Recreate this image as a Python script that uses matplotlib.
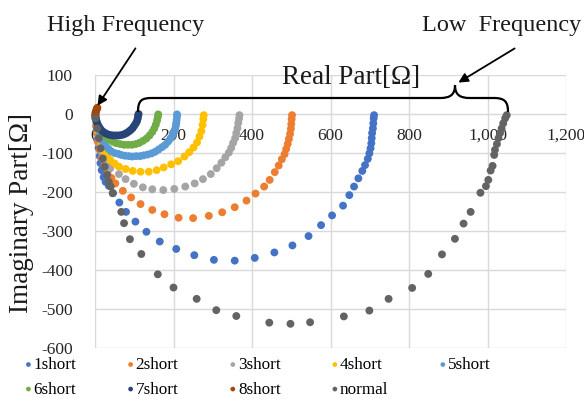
import matplotlib
matplotlib.use("Agg")
import matplotlib.pyplot as plt
from matplotlib.path import Path
from matplotlib.patches import PathPatch, FancyArrowPatch
from matplotlib.ticker import FuncFormatter, MultipleLocator

plt.rcParams['font.family'] = ['Liberation Serif', 'DejaVu Serif']

# ---------------- data (Real part, Imaginary part in ohm) ----------------
s1_re = [1, 4, 4, 6, 9, 12, 14, 17, 22, 27, 35, 46, 62, 79, 103, 131, 165, 207, 253, 303,
         356, 407, 457, 503, 544, 576, 604, 632, 648, 660, 671, 681, 688, 695, 699, 702,
         704, 705, 706, 708, 709, 710, 711]
s1_im = [-10, -28, -46, -67, -87, -108, -126, -144, -162, -174, -184, -203, -227, -251, -276,
         -302, -327, -346, -362, -374, -376, -369, -355, -337, -313, -285, -260, -235, -208,
         -186, -165, -146, -131, -115, -101, -88, -75, -62, -49, -37, -24, -11, -3]

s2_re = [1, 2.5, 5, 7.6, 11.5, 16.5, 24, 32, 42, 52, 71, 92, 116, 146, 177, 213, 250, 290,
         324, 356, 386, 409, 431, 445, 458, 468, 476, 483, 487, 491, 494, 497, 499, 500, 501, 502]
s2_im = [-10, -31, -51, -72, -92, -113, -133, -149, -164, -178, -197, -214, -231, -246, -257,
         -266, -267, -261, -252, -239, -222, -204, -186, -169, -149, -132, -116, -103, -90,
         -77, -64, -51, -38, -26, -13, -3]

s3_re = [1, 4, 6.4, 8.9, 14, 19, 25, 32, 39, 61, 78, 99, 122, 146, 174, 202, 230, 254, 275,
         295, 310, 322, 332, 341, 347, 352, 357, 360, 363, 365, 367, 368]
s3_im = [-5, -21, -41, -62, -82, -100, -115, -128, -139, -154, -167, -179, -188, -193, -195,
         -192, -186, -178, -167, -154, -139, -125, -111, -99, -87, -74, -62, -49, -36, -23,
         -12, -3]

s4_re = [1, 4, 7, 11.5, 16.5, 23, 31, 39, 50, 61, 78, 96, 116, 137, 157, 175, 194, 212, 228,
         240, 251, 260, 266, 271, 274, 276, 277]
s4_im = [-5, -21, -41, -62, -79, -95, -108, -118, -127, -135, -141, -146, -148, -148, -144,
         -137, -129, -121, -109, -98, -86, -73, -58, -44, -28, -13, -3]

s5_re = [1, 4, 7, 11.5, 16.5, 22, 28, 35, 42, 50, 59, 67, 76, 86, 95, 105, 115, 124, 134,
         144, 153, 162, 171, 179, 186, 192, 197, 201, 204, 206, 207, 208, 209, 209]
s5_im = [-5, -22, -38, -54, -66, -76, -83, -90, -96, -100, -102, -105, -107, -108, -109,
         -108, -108, -106, -104, -101, -97, -91, -85, -79, -71, -63, -56, -47, -39, -30,
         -23, -15, -6, -1]

s6_re = [1, 3, 6, 10, 15, 21, 28, 36, 45, 54, 64, 74, 84, 94, 104, 113, 122, 131, 139, 146,
         151, 155, 158, 160, 161]
s6_im = [-4, -15, -26, -36, -45, -53, -60, -66, -71, -75, -77, -79, -79, -79, -77, -74, -69,
         -63, -55, -46, -37, -27, -17, -8, -1]

s7_re = [1, 2, 4, 7, 11, 15, 20, 26, 32, 39, 46, 53, 60, 67, 74, 80, 86, 91, 96, 100, 104,
         107, 109, 110, 111]
s7_im = [-3, -11, -19, -27, -34, -40, -45, -49, -52, -54, -55, -55, -55, -54, -52, -49, -45,
         -41, -36, -30, -24, -18, -11, -4, 0]

s8_re = [1, 2, 3, 4, 5, 6]
s8_im = [2, 5, 8, 11, 14, 16]

n_re = [1.3, 5.6, 9.7, 14, 19.9, 24.9, 31, 35, 40, 45, 67, 74, 89, 118, 160, 200, 259, 309,
        360, 444, 498, 548, 634, 699, 748, 808, 849, 884, 917, 939, 957, 982, 996, 1002,
        1008, 1013, 1017, 1019, 1024, 1028, 1032, 1036, 1040, 1045, 1049]
n_im = [-11, -37, -62, -88, -114, -135, -156, -174, -186, -203, -251, -280, -321, -359, -411,
        -445, -474, -503, -518, -535, -538, -534, -519, -504, -474, -446, -410, -360, -320,
        -281, -251, -202, -185, -169, -145, -133, -105, -92, -77, -62, -49, -37, -24, -11, -3]

names = ['1short', '2short', '3short', '4short', '5short', '6short', '7short', '8short', 'normal']
colors = ['#4472C4', '#ED7D31', '#A5A5A5', '#FFC000', '#5B9BD5', '#70AD47', '#264478',
          '#9E480E', '#636363']
series = [(s1_re, s1_im), (s2_re, s2_im), (s3_re, s3_im), (s4_re, s4_im), (s5_re, s5_im),
          (s6_re, s6_im), (s7_re, s7_im), (s8_re, s8_im), (n_re, n_im)]

# ---------------- figure ----------------
W, H = 584, 399
fig = plt.figure(figsize=(W / 100, H / 100), dpi=100)
ax = fig.add_axes([95 / W, 1 - 348 / H, (566 - 95) / W, (348 - 75) / H])

handles = []
for i, ((xr, yi), nm, c) in enumerate(zip(series, names, colors)):
    h = ax.scatter(xr, yi, s=32, color=c, edgecolors='none', label=nm, zorder=3 + i,
                   clip_on=False)
    handles.append(h)

ax.set_xlim(0, 1200)
ax.set_ylim(-600, 100)
ax.xaxis.set_major_locator(MultipleLocator(200))
ax.yaxis.set_major_locator(MultipleLocator(100))
ax.xaxis.set_major_formatter(FuncFormatter(lambda v, p: f"{int(v):,}"))
ax.yaxis.set_major_formatter(FuncFormatter(lambda v, p: f"{int(v)}"))
ax.grid(True, color='#D9D9D9', linewidth=1)
ax.set_axisbelow(True)
for sp in ['top', 'right', 'left']:
    ax.spines[sp].set_visible(False)
ax.spines['bottom'].set_position(('data', 0))
ax.spines['bottom'].set_color('#D9D9D9')
ax.tick_params(axis='both', length=0, labelsize=12.5, colors='#262626')
ax.tick_params(axis='x', pad=10)
ax.tick_params(axis='y', pad=16)

fig.text(22 / W, 1 - 213 / H, 'Imaginary Part[Ω]', rotation=90, ha='center', va='center',
         fontsize=19.5, color='#1a1a1a')
fig.text(351 / W, 1 - 77 / H, 'Real Part[Ω]', ha='center', va='center', fontsize=19.5,
         color='#1a1a1a')
fig.text(126 / W, 1 - 25 / H, 'High Frequency', ha='center', va='center', fontsize=17.5,
         color='#1a1a1a')
fig.text(502 / W, 1 - 25 / H, 'Low  Frequency', ha='center', va='center', fontsize=17.5,
         color='#1a1a1a')

# arrows (figure-pixel coordinates)
def fp(x, y):
    return (x / W, 1 - y / H)

fig.add_artist(FancyArrowPatch(fp(137, 46), fp(96, 108), transform=fig.transFigure,
                               arrowstyle='-|>', mutation_scale=14, color='black', lw=1.3))
fig.add_artist(FancyArrowPatch(fp(517, 47), fp(456, 84), transform=fig.transFigure,
                               arrowstyle='-|>', mutation_scale=14, color='black', lw=1.3))

# curly brace
verts = [fp(138, 112), fp(138, 100), fp(142, 98), fp(152, 98),
         fp(440, 98),
         fp(450, 98), fp(455, 95), fp(455, 85),
         fp(455, 95), fp(460, 98), fp(470, 98),
         fp(494, 98),
         fp(505, 98), fp(508, 102), fp(508, 112)]
codes = [Path.MOVETO, Path.CURVE4, Path.CURVE4, Path.CURVE4,
         Path.LINETO,
         Path.CURVE4, Path.CURVE4, Path.CURVE4,
         Path.CURVE4, Path.CURVE4, Path.CURVE4,
         Path.LINETO,
         Path.CURVE4, Path.CURVE4, Path.CURVE4]
fig.add_artist(PathPatch(Path(verts, codes), transform=fig.transFigure, fill=False,
                         lw=1.6, color='black'))

# legend, row-wise order
order = [0, 5, 1, 6, 2, 7, 3, 8, 4]
leg = fig.legend([handles[k] for k in order], [names[k] for k in order], ncol=5,
                 loc='upper left', bbox_to_anchor=(25 / W, 1 - 357 / H), frameon=False,
                 fontsize=12.3, handlelength=0.4, handletextpad=0.1, columnspacing=2.98,
                 markerscale=0.6, labelspacing=0.5, borderaxespad=0, borderpad=0)

fig.savefig('out.png', dpi=100)
